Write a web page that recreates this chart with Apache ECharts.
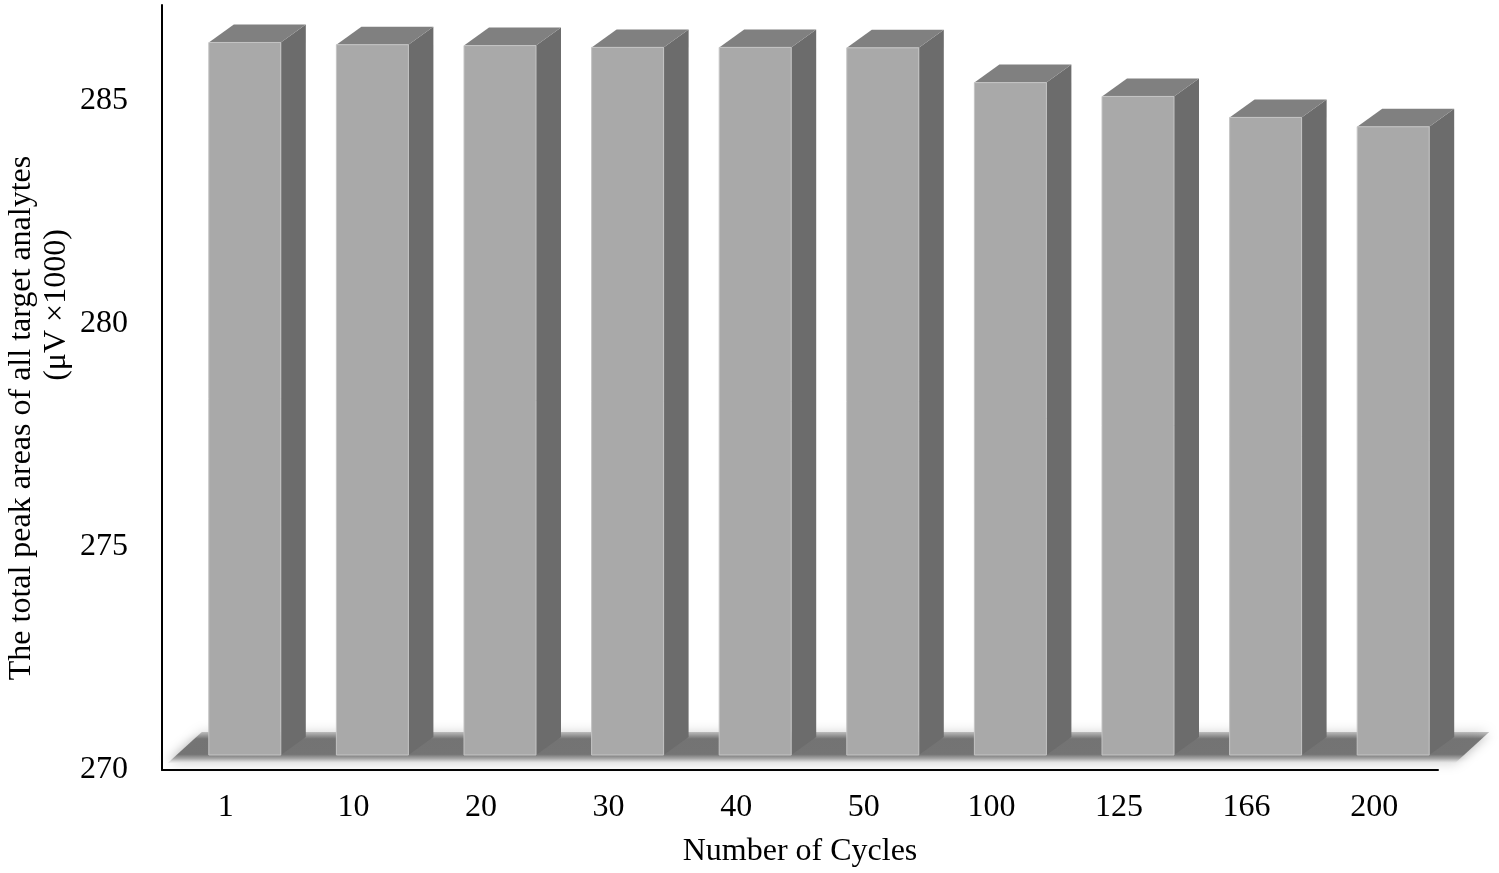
<!DOCTYPE html>
<html>
<head>
<meta charset="utf-8">
<script src="https://cdn.jsdelivr.net/npm/echarts@6/dist/echarts.min.js"></script>
<style>
html,body{margin:0;padding:0;background:#fff;}
#chart{width:1499px;height:873px;}
</style>
</head>
<body>
<div id="chart"></div>
<script>
// ---- data ----
const categories = ['1', '10', '20', '30', '40', '50', '100', '125', '166', '200'];
const peakAreas = [286.31, 286.26, 286.24, 286.20, 286.20, 286.19, 285.41, 285.10, 284.63, 284.42];
const yTitleLine1 = 'The total peak areas of all target analytes';
const yTitleLine2 = '(\u03bcV \u00d71000)';
const xTitle = 'Number of Cycles';
const Y_MIN = 270;
const Y_MAX = 287.15;
const Y_STEP = 5;

const FONT = '"Liberation Serif", "Times New Roman", serif';

const FRONT = '#a9a9a9', SIDE = '#6c6c6c', TOPC = '#808080';
const DX = 25, DY = 18;          // 3D depth offset
const FL = -17, FW = 72;         // front face offset from band centre, width
const LIFT = 15;                 // front-face base above axis line

function renderBar(params, api) {
  const p = api.coord([api.value(0), api.value(1)]);
  const b = api.coord([api.value(0), Y_MIN]);
  const cx = p[0], top = p[1], base = b[1] - LIFT;
  const x1 = cx + FL, x2 = x1 + FW;
  return {
    type: 'group',
    children: [
      { type: 'polygon', shape: { points: [[x2, top], [x2 + DX, top - DY], [x2 + DX, base - DY], [x2, base]] },
        style: { fill: SIDE } },
      { type: 'polygon', shape: { points: [[x1, top], [x1 + DX, top - DY], [x2 + DX, top - DY], [x2, top]] },
        style: { fill: TOPC } },
      { type: 'rect', shape: { x: x1, y: top, width: FW, height: base - top },
        style: { fill: FRONT, stroke: '#c4c4c4', lineWidth: 1 } }
    ]
  };
}

function renderFloor(params, api) {
  const a = api.coord([0, Y_MIN]);
  const z = api.coord([categories.length - 1, Y_MIN]);
  const y0 = a[1];
  const pts = [[a[0] - 58, y0 - 7], [z[0] + 81, y0 - 7], [z[0] + 115, y0 - 38], [a[0] - 24, y0 - 38]];
  return {
    type: 'polygon',
    shape: { points: pts },
    style: {
      fill: new echarts.graphic.LinearGradient(0, 0, 0, 1, [
        { offset: 0, color: 'rgba(150,150,150,0.55)' },
        { offset: 0.22, color: 'rgba(112,112,112,0.95)' },
        { offset: 0.72, color: '#747474' },
        { offset: 0.86, color: '#a8a8a8' },
        { offset: 1, color: 'rgba(235,235,235,0.6)' }
      ]),
      shadowBlur: 12,
      shadowColor: 'rgba(110,110,110,0.55)'
    }
  };
}

const chart = echarts.init(document.getElementById('chart'), null, { renderer: 'canvas' });
chart.setOption({
  backgroundColor: '#ffffff',
  animation: false,
  grid: { left: 162, right: 61, top: 5, bottom: 103, containLabel: false },
  xAxis: {
    type: 'category',
    data: categories,
    axisLine: { show: true, lineStyle: { color: '#000', width: 2 } },
    axisTick: { show: false },
    axisLabel: { color: '#000', fontSize: 32, fontFamily: FONT, margin: 22 },
    name: xTitle,
    nameLocation: 'middle',
    nameGap: 66,
    nameTextStyle: { color: '#000', fontSize: 32, fontFamily: FONT },
    splitLine: { show: false }
  },
  yAxis: {
    type: 'value',
    min: Y_MIN,
    max: Y_MAX,
    interval: Y_STEP,
    axisLine: { show: true, lineStyle: { color: '#000', width: 2 } },
    axisTick: { show: false },
    splitLine: { show: false },
    axisLabel: {
      color: '#000', fontSize: 32, fontFamily: FONT, margin: 34,
      formatter: function (v) { return Math.abs(v % Y_STEP) < 1e-6 ? String(v) : ''; }
    }
  },
  graphic: [
    { type: 'text', x: 22, y: 418, rotation: Math.PI / 2,
      style: { text: yTitleLine1, fill: '#000', font: '32px ' + FONT, textAlign: 'center', textVerticalAlign: 'middle' } },
    { type: 'text', x: 57, y: 305, rotation: Math.PI / 2,
      style: { text: yTitleLine2, fill: '#000', font: '32px ' + FONT, textAlign: 'center', textVerticalAlign: 'middle' } }
  ],
  series: [
    { type: 'custom', name: 'floor', data: [[0, Y_MIN]], renderItem: renderFloor, silent: true, z: 1 },
    { type: 'custom', name: 'bars', data: peakAreas.map((v, i) => [i, v]), renderItem: renderBar, z: 2,
      encode: { x: 0, y: 1 } }
  ]
});
</script>
</body>
</html>
